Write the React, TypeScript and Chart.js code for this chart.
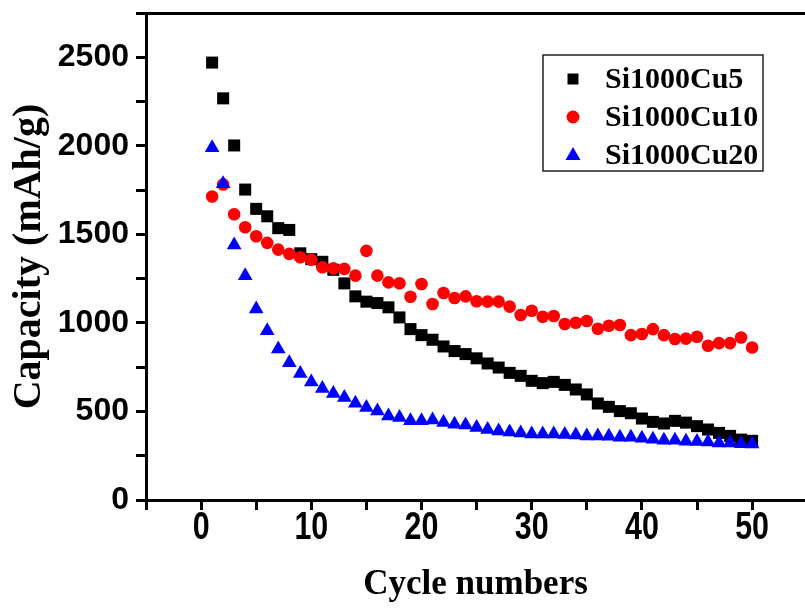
import React, { useEffect, useRef } from 'react';
import { Chart, registerables } from 'chart.js';

Chart.register(...registerables);

const cycles = [1, 2, 3, 4, 5, 6, 7, 8, 9, 10, 11, 12, 13, 14, 15, 16, 17, 18, 19, 20, 21, 22, 23, 24, 25, 26, 27, 28, 29, 30, 31, 32, 33, 34, 35, 36, 37, 38, 39, 40, 41, 42, 43, 44, 45, 46, 47, 48, 49, 50];

const cu5 = [2470, 2268, 2002, 1753, 1644, 1602, 1535, 1525, 1393, 1360, 1345, 1300, 1223, 1150, 1120, 1112, 1088, 1031, 965, 931, 905, 867, 841, 824, 800, 771, 748, 718, 701, 673, 660, 667, 650, 624, 596, 545, 526, 502, 490, 460, 441, 432, 447, 437, 417, 398, 379, 362, 341, 334];

const cu10 = [1714, 1782, 1614, 1540, 1489, 1452, 1414, 1390, 1371, 1357, 1314, 1308, 1305, 1267, 1407, 1267, 1229, 1224, 1148, 1220, 1107, 1169, 1141, 1150, 1122, 1120, 1120, 1092, 1045, 1069, 1035, 1039, 994, 1001, 1011, 967, 984, 988, 931, 937, 965, 931, 909, 911, 922, 871, 886, 886, 918, 861];

const cu20 = [1989, 1786, 1440, 1267, 1079, 956, 852, 775, 714, 667, 630, 601, 579, 547, 522, 503, 475, 466, 447, 447, 452, 437, 428, 424, 409, 398, 390, 384, 378, 373, 373, 373, 370, 367, 362, 362, 360, 354, 354, 348, 343, 337, 337, 332, 330, 328, 322, 322, 318, 316];

const seriesLabels = ['Si1000Cu5', 'Si1000Cu10', 'Si1000Cu20'];
const xTickLabels = [0, 10, 20, 30, 40, 50];
const yTickLabels = [0, 500, 1000, 1500, 2000, 2500];
const xTitle = 'Cycle numbers';
const yTitle = 'Capacity (mAh/g)';

const toPoints = (vals: number[]) => vals.map((v, i) => ({ x: cycles[i], y: v }));

const legendPlugin = {
  id: 'boxLegend',
  afterDraw(chart: any) {
    const ctx = chart.ctx as CanvasRenderingContext2D;
    ctx.save();
    ctx.strokeStyle = '#222';
    ctx.lineWidth = 1.5;
    ctx.strokeRect(543, 55, 220, 116);
    chart.data.datasets.forEach((ds: any, i: number) => {
      const y = 79 + i * 38;
      const x = 573;
      ctx.fillStyle = ds.backgroundColor;
      ctx.beginPath();
      if (ds.pointStyle === 'rect') {
        ctx.rect(x - 5.5, y - 5.5, 11, 11);
      } else if (ds.pointStyle === 'circle') {
        ctx.arc(x, y, 6.5, 0, Math.PI * 2);
      } else {
        ctx.moveTo(x, y - 8);
        ctx.lineTo(x + 7.5, y + 5);
        ctx.lineTo(x - 7.5, y + 5);
        ctx.closePath();
      }
      ctx.fill();
      ctx.fillStyle = '#000';
      ctx.font = 'bold 30px "Liberation Serif", "Times New Roman", serif';
      ctx.textBaseline = 'middle';
      ctx.textAlign = 'left';
      ctx.fillText(ds.label, 605, y + 1);
    });
    ctx.restore();
  },
};

// Condensed x tick labels placed through the x scale
const xLabelPlugin = {
  id: 'xCondensedLabels',
  afterDraw(chart: any) {
    const sc = chart.scales.x;
    const ctx = chart.ctx as CanvasRenderingContext2D;
    ctx.save();
    ctx.fillStyle = '#000';
    ctx.font = 'bold 38px "Liberation Sans", Arial, sans-serif';
    ctx.textAlign = 'center';
    ctx.textBaseline = 'alphabetic';
    const base = sc.top + 39;
    xTickLabels.forEach((v) => {
      const px = sc.getPixelForValue(v);
      ctx.save();
      ctx.translate(px, base);
      ctx.scale(0.8, 1);
      ctx.fillText(String(v), 0, 0);
      ctx.restore();
    });
    ctx.restore();
  },
};

export default function App() {
  const ref = useRef<HTMLCanvasElement>(null);

  useEffect(() => {
    if (!ref.current) return;
    const chart = new Chart(ref.current, {
      type: 'scatter',
      data: {
        datasets: [
          {
            label: seriesLabels[0],
            data: toPoints(cu5),
            pointStyle: 'rect',
            pointRadius: 8.5,
            backgroundColor: '#000000',
            borderColor: '#000000',
            borderWidth: 0,
            order: 2,
          },
          {
            label: seriesLabels[1],
            data: toPoints(cu10),
            pointStyle: 'circle',
            pointRadius: 6.3,
            backgroundColor: '#ff0000',
            borderColor: '#ff0000',
            borderWidth: 0,
            order: 1,
          },
          {
            label: seriesLabels[2],
            data: toPoints(cu20),
            pointStyle: 'triangle',
            pointRadius: 8.5,
            backgroundColor: '#0000ff',
            borderColor: '#0000ff',
            borderWidth: 0,
            order: 0,
          },
        ],
      } as any,
      options: {
        responsive: false,
        animation: false,
        devicePixelRatio: 1,
        layout: { autoPadding: false, padding: { top: 13, right: 0, left: 0, bottom: 0 } },
        plugins: { legend: { display: false }, tooltip: { enabled: false } },
        scales: {
          x: {
            type: 'linear',
            position: 'bottom',
            min: -5,
            max: 54.8,
            afterFit: (s: any) => {
              s.height = 110;
              s.paddingLeft = 0;
              s.paddingRight = 0;
            },
            ticks: {
              display: false,
              stepSize: 5,
              includeBounds: false,
              autoSkip: false,
              maxRotation: 0,
            },
            grid: { drawOnChartArea: false, tickLength: 10, tickWidth: 3, color: '#000' },
            border: { color: '#000', width: 3 },
            title: {
              display: true,
              text: xTitle,
              color: '#000',
              font: { family: '"Liberation Serif", "Times New Roman", serif', size: 35, weight: 'bold' },
              padding: { top: 0, bottom: 4 },
            },
          },
          x2: {
            type: 'linear',
            position: 'top',
            min: -5,
            max: 54.8,
            afterFit: (s: any) => {
              s.height = 0;
              s.paddingLeft = 0;
              s.paddingRight = 0;
            },
            ticks: { display: false },
            grid: { drawOnChartArea: false, drawTicks: false },
            border: { color: '#000', width: 3 },
          },
          y: {
            type: 'linear',
            min: 0,
            max: 2750,
            afterFit: (s: any) => {
              s.width = 146;
              s.paddingTop = 0;
              s.paddingBottom = 0;
            },
            ticks: {
              stepSize: 250,
              autoSkip: false,
              color: '#000',
              padding: 7,
              font: { family: '"Liberation Sans", Arial, sans-serif', size: 32, weight: 'bold' },
              callback: (v: any) => (yTickLabels.includes(Number(v)) ? String(v) : ''),
            },
            grid: { drawOnChartArea: false, tickLength: 10, tickWidth: 3, color: '#000' },
            border: { color: '#000', width: 3 },
            title: {
              display: true,
              text: yTitle,
              color: '#000',
              font: { family: '"Liberation Serif", "Times New Roman", serif', size: 40, weight: 'bold' },
              padding: { top: 6, bottom: 0 },
            },
          },
        },
      } as any,
      plugins: [legendPlugin, xLabelPlugin],
    });
    return () => chart.destroy();
  }, []);

  return (
    <div style={{ position: 'absolute', left: 0, top: 0, width: 805, height: 610, background: '#fff' }}>
      <canvas ref={ref} width={805} height={610} style={{ display: 'block' }} />
    </div>
  );
}
